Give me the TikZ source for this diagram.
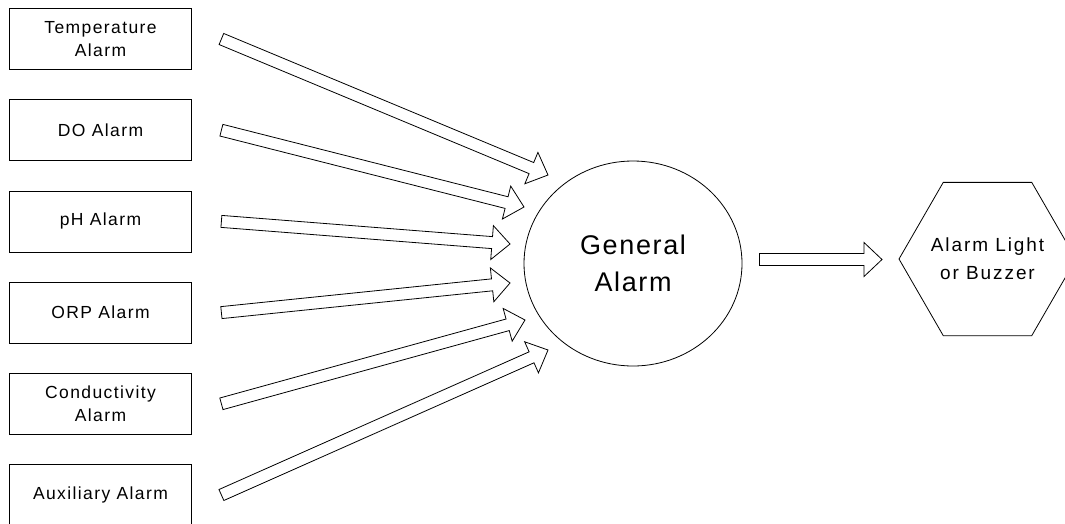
\documentclass[tikz,border=0pt]{standalone}
\usepackage{fontspec}
\setmainfont{Liberation Sans}
\newfontfamily\boxfont[LetterSpace=8]{Liberation Sans}
\newfontfamily\bigfont[LetterSpace=6]{Liberation Sans}
\newfontfamily\hexfont[LetterSpace=10]{Liberation Sans}
\usetikzlibrary{calc,shapes.geometric}
\tikzset{
  alarmbox/.style={draw,rectangle,line width=0.8pt,minimum width=182pt,minimum height=61pt,inner sep=0pt,align=center,font=\boxfont\fontsize{17.5}{23.4}\selectfont},
  arrowline/.style={draw,line width=0.8pt,fill=white,line join=miter}
}
\newcommand{\hollowarrow}[2]{%
  \coordinate (hb) at ($(#2)!18pt!(#1)$);
  \draw[arrowline] ($(#1)!6pt!90:(#2)$) -- ($(hb)!6pt!-90:(#1)$) -- ($(hb)!17pt!-90:(#1)$)
    -- (#2) -- ($(hb)!17pt!90:(#1)$) -- ($(hb)!6pt!90:(#1)$) -- ($(#1)!6pt!-90:(#2)$) -- cycle;
}

\begin{document}
\begin{tikzpicture}[x=1pt,y=-1pt]
\useasboundingbox (0,0) rectangle (1065,523);
\node[alarmbox] (temp) at (100.5,39) {Temperature\\Alarm};
\node[alarmbox] (do) at (100.5,130.2) {DO Alarm};
\node[alarmbox] (ph) at (100.5,221.4) {pH Alarm};
\node[alarmbox] (orp) at (100.5,312.6) {ORP Alarm};
\node[alarmbox] (cond) at (100.5,403.8) {Conductivity\\Alarm};
\node[alarmbox] (aux) at (100.5,495) {Auxiliary Alarm};
\node[draw,ellipse,line width=0.8pt,minimum width=218pt,minimum height=205pt,inner sep=0pt,align=center,font=\bigfont\fontsize{27}{37}\selectfont] (general) at (633,263.5) {General\\Alarm};
\node[draw,regular polygon,regular polygon sides=6,line width=0.8pt,minimum size=177pt,inner sep=0pt,outer sep=0pt] (light) at (987.5,259) {};
\node[align=center,font=\hexfont\fontsize{19}{28}\selectfont] (lighttext) at (light.center) {Alarm Light\\or Buzzer};
% arrow ends
\foreach \src/\tx/\ty in {temp/548/175,do/524/207,ph/510/244,orp/510/283,cond/525/320,aux/548/350}
  \coordinate (\src-tip) at (\tx,\ty);
\foreach \src in {temp,do,ph,orp,cond,aux}{
  \coordinate (\src-tail) at ($(\src.east)+(29.5,0)$);
  \hollowarrow{\src-tail}{\src-tip}
}
\coordinate (out-tail) at ($(general.east)+(17,-4)$);
\coordinate (out-tip) at ($(light.west)+(-17,0.5)$);
\hollowarrow{out-tail}{out-tip}
\end{tikzpicture}
\end{document}
